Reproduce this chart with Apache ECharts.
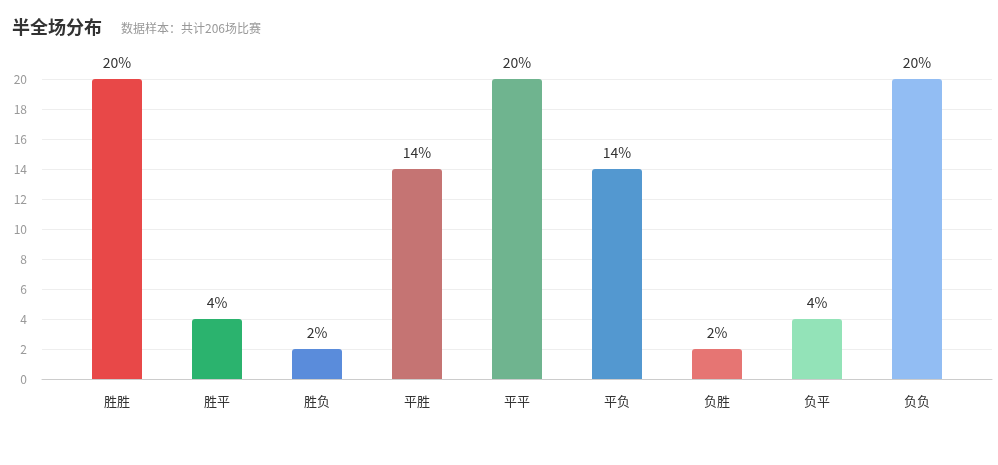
<!DOCTYPE html>
<html><head><meta charset="utf-8">
<script src="https://cdn.jsdelivr.net/npm/echarts@6/dist/echarts.min.js"></script>
<style>html,body{margin:0;padding:0;background:#fff}#c{width:998px;height:465px}</style>
</head><body><div id="c"></div>
<script>
const categories = ['胜胜','胜平','胜负','平胜','平平','平负','负胜','负平','负负'];
const values = [20, 4, 2, 14, 20, 14, 2, 4, 20];
const colors = ['#e84848','#2bb36e','#5a8cdb','#c57473','#6fb48f','#5398d0','#e67573','#93e3b8','#92bdf3'];
const yTicks = [0,2,4,6,8,10,12,14,16,18,20];

const font = '"Microsoft YaHei","Noto Sans CJK SC",sans-serif';
const chart = echarts.init(document.getElementById('c'));
chart.setOption({
  animation: false,
  textStyle: {fontFamily: font},
  title: [
    {text: '半全场分布', left: 7, top: 13,
     textStyle: {fontSize: 18, fontWeight: 'bold', color: '#333', fontFamily: font}},
    {text: '数据样本：共计206场比赛', left: 116, top: 17,
     textStyle: {fontSize: 12, fontWeight: 'normal', color: '#999', fontFamily: font}}
  ],
  grid: [
    {left: 42, right: 6, top: 79, bottom: 86},
    {left: 67, right: 31, top: 79, bottom: 86}
  ],
  xAxis: [
    {type: 'category', gridIndex: 0, data: [''], axisLine: {lineStyle: {color: '#ccc'}},
     axisTick: {show: false}, axisLabel: {show: false}},
    {type: 'category', gridIndex: 1, data: categories,
     axisLine: {show: false}, axisTick: {show: false},
     axisLabel: {color: '#333', fontSize: 13, margin: 16, fontFamily: font}}
  ],
  yAxis: [
    {type: 'value', gridIndex: 0, min: yTicks[0], max: yTicks[yTicks.length-1], interval: 2,
     axisLine: {show: false}, axisTick: {show: false},
     axisLabel: {color: '#999', fontSize: 12, margin: 15},
     splitLine: {lineStyle: {color: '#eee'}}},
    {type: 'value', gridIndex: 1, min: yTicks[0], max: yTicks[yTicks.length-1], interval: 2, show: false}
  ],
  series: [{
    type: 'bar', xAxisIndex: 1, yAxisIndex: 1, barWidth: 50,
    data: values.map((v, i) => ({value: v, itemStyle: {color: colors[i]}})),
    itemStyle: {borderRadius: [3,3,0,0]},
    label: {show: true, position: 'top', distance: 9, formatter: '{c}%', color: '#333', fontSize: 14, fontFamily: font}
  }]
});
</script></body></html>
